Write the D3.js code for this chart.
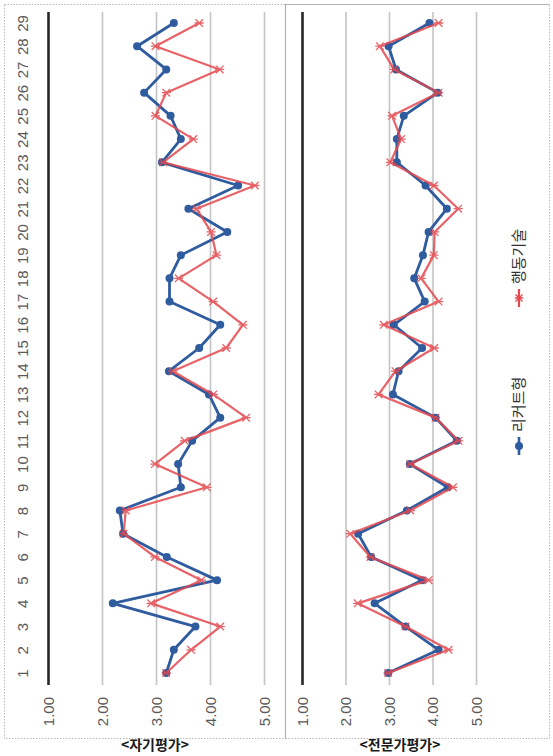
<!DOCTYPE html>
<html>
<head>
<meta charset="utf-8">
<script src="https://cdn.jsdelivr.net/npm/d3@7/dist/d3.min.js"></script>
<style>
    body { margin: 0; background: #fff; }
    svg { display: block; }
    .num { font-family: "Liberation Sans Narrow", "Liberation Sans", sans-serif; font-size: 15px; fill: #595959; }
    .kor { font-family: "Noto Sans CJK KR", sans-serif; }
</style>
</head>
<body>
<div id="chart"></div>
<script>
// items 1..29
const items = [1, 2, 3, 4, 5, 6, 7, 8, 9, 10, 11, 12, 13, 14, 15, 16, 17, 18, 19, 20,
    21, 22, 23, 24, 25, 26, 27, 28, 29];
const valueTicks = [1, 2, 3, 4, 5];
const seriesNames = ["리커트형", "행동기술"];
const panelTitles = ["<자기평가>", "<전문가평가>"];

// 자기평가
const selfLikert = [3.19, 3.33, 3.73, 2.20, 4.13, 3.20, 2.39, 2.33, 3.46, 3.41, 3.67, 4.19, 3.98, 3.24,
    3.80, 4.19, 3.25, 3.25, 3.46, 4.32, 3.60, 4.52, 3.11, 3.46, 3.27, 2.78, 3.19, 2.65, 3.33];
const selfBehavior = [3.19, 3.65, 4.19, 2.91, 3.84, 2.98, 2.40, 2.44, 3.94, 2.98, 3.53, 4.67, 4.06, 3.31,
    4.30, 4.61, 4.06, 3.42, 4.12, 4.02, 3.75, 4.83, 3.13, 3.69, 2.99, 3.19, 4.18, 2.99, 3.80];

// 전문가평가
const expertLikert = [2.98, 4.14, 3.38, 2.67, 3.76, 2.59, 2.29, 3.41, 4.35, 3.48, 4.56, 4.07, 3.09, 3.22,
    3.76, 3.11, 3.82, 3.58, 3.78, 3.91, 4.33, 3.84, 3.18, 3.18, 3.34, 4.12, 3.16, 2.99, 3.93];
const expertBehavior = [2.98, 4.37, 3.38, 2.28, 3.91, 2.57, 2.11, 3.49, 4.47, 3.49, 4.60, 4.07, 2.76, 3.15,
    4.04, 2.88, 4.14, 3.74, 4.03, 4.05, 4.59, 4.03, 3.03, 3.28, 3.07, 4.14, 3.12, 2.79, 4.14];

const BLUE = "#2f5c9e";
const RED = "#e5484e";

const svg = d3.select("#chart").append("svg")
    .attr("width", 553)
    .attr("height", 756);

function asterisk(s) {
    return "M" + (-s) + "," + (-s) + "L" + s + "," + s +
        "M" + (-s) + "," + s + "L" + s + "," + (-s) +
        "M" + (-s * 1.2) + ",0L" + (s * 1.2) + ",0";
}

function RotatedPanel() {
}

RotatedPanel.prototype.init = function (opts) {
    this.left = opts.left;       // pixel of value 1.00
    this.right = opts.right;     // pixel of value 5.00
    this.top = 12;
    this.bottom = 685;
    this.showItems = opts.showItems;
    this.title = opts.title;
    this.titleX = opts.titleX;

    this.x = d3.scaleLinear()
        .domain([1, 5])
        .range([this.left, this.right]);

    this.y = d3.scalePoint()
        .domain(items)
        .range([673, 23]);

    let self = this;
    this.line = d3.line()
        .x(function (d) {
            return self.x(d.value)
        })
        .y(function (d) {
            return self.y(d.item)
        });
};

RotatedPanel.prototype.render = function (likert, behavior) {
    let self = this;
    let g = svg.append("g");

    // gridlines (1.00 is the dark base line)
    let grid = g.append("g")
        .attr("transform", "translate(0," + this.bottom + ")")
        .call(d3.axisBottom(this.x).tickValues(valueTicks).tickSize(-(this.bottom - this.top)).tickFormat(""));
    grid.select(".domain").remove();
    grid.selectAll(".tick line")
        .attr("stroke", function (d) { return d === 1 ? "#262626" : "#c4c4c4"; })
        .attr("stroke-width", function (d) { return d === 1 ? 2.6 : 1.6; });

    // value labels, rotated
    let xAxis = g.append("g")
        .attr("transform", "translate(0," + this.bottom + ")")
        .call(d3.axisBottom(this.x).tickValues(valueTicks).tickSize(0).tickFormat(d3.format(".2f")));
    xAxis.select(".domain").remove();
    xAxis.selectAll("text")
        .attr("class", "num")
        .attr("x", 0)
        .attr("y", 0)
        .attr("dy", "0.35em")
        .attr("transform", "translate(0,12) rotate(-90)")
        .style("text-anchor", "end");

    if (this.showItems) {
        let yAxis = g.append("g")
            .attr("transform", "translate(" + this.left + ",0)")
            .call(d3.axisLeft(this.y).tickSize(0));
        yAxis.select(".domain").remove();
        yAxis.selectAll("text")
            .attr("class", "num")
            .attr("x", 0)
            .attr("y", 0)
            .attr("dy", "0.35em")
            .attr("transform", "translate(-25,0) rotate(-90)")
            .style("text-anchor", "middle");
    }

    let blueData = items.map(function (d, i) { return {item: d, value: likert[i]}; });
    let redData = items.map(function (d, i) { return {item: d, value: behavior[i]}; });

    g.append("path")
        .datum(blueData)
        .attr("fill", "none")
        .attr("stroke", BLUE)
        .attr("stroke-width", 2.8)
        .attr("stroke-linejoin", "round")
        .attr("d", this.line);

    g.selectAll(".dot")
        .data(blueData)
        .enter().append("circle")
        .attr("cx", function (d) { return self.x(d.value); })
        .attr("cy", function (d) { return self.y(d.item); })
        .attr("r", 4)
        .attr("fill", BLUE);

    let red = g.append("g").attr("opacity", 0.85);
    red.append("path")
        .datum(redData)
        .attr("fill", "none")
        .attr("stroke", RED)
        .attr("stroke-width", 2.2)
        .attr("stroke-linejoin", "round")
        .attr("d", this.line);

    red.selectAll(".star")
        .data(redData)
        .enter().append("path")
        .attr("transform", function (d) {
            return "translate(" + self.x(d.value) + "," + self.y(d.item) + ")";
        })
        .attr("d", asterisk(3.8))
        .attr("stroke", RED)
        .attr("stroke-width", 1.3)
        .attr("fill", "none");

    // title sits at the very bottom edge, as in the source
    svg.append("text")
        .attr("class", "kor")
        .attr("x", this.titleX)
        .attr("y", 750)
        .attr("text-anchor", "middle")
        .attr("font-size", 14)
        .attr("font-weight", "bold")
        .attr("fill", "#1a1a1a")
        .text(this.title);
};

// panel frames
svg.append("rect")
    .attr("x", 4.5).attr("y", 4.5)
    .attr("width", 281).attr("height", 734)
    .attr("fill", "none")
    .attr("stroke", "#b8b8b8")
    .attr("stroke-dasharray", "1.5,1.5");

svg.append("path")
    .attr("d", "M285.5,738.5L549.5,738.5L549.5,4.5")
    .attr("fill", "none")
    .attr("stroke", "#b8b8b8")
    .attr("stroke-dasharray", "1.5,1.5");

svg.append("path")
    .attr("d", "M285.5,738.5L285.5,4.5L549.5,4.5")
    .attr("fill", "none")
    .attr("stroke", "#b0b0b0")
    .attr("stroke-width", 1.2);

let selfChart = new RotatedPanel();
selfChart.init({left: 48, right: 264, showItems: true, title: panelTitles[0], titleX: 155});
selfChart.render(selfLikert, selfBehavior);

let expertChart = new RotatedPanel();
expertChart.init({left: 302, right: 476, showItems: false, title: panelTitles[1], titleX: 400});
expertChart.render(expertLikert, expertBehavior);

// legend (vertical, inside the expert panel)
let legend = svg.append("g").attr("transform", "translate(519,0)");
let legendRows = [{name: seriesNames[0], color: BLUE, cy: 446}, {name: seriesNames[1], color: RED, cy: 298}];
legendRows.forEach(function (row, i) {
    let lg = legend.append("g").attr("transform", "translate(0," + row.cy + ")");
    lg.append("line")
        .attr("y1", -9).attr("y2", 9)
        .attr("stroke", row.color)
        .attr("stroke-width", i === 0 ? 2.6 : 2.2);
    if (i === 0) {
        lg.append("circle").attr("r", 4).attr("fill", row.color);
    } else {
        lg.append("path").attr("d", asterisk(3.5)).attr("stroke", row.color)
            .attr("stroke-width", 1.3).attr("fill", "none");
    }
    lg.append("text")
        .attr("class", "kor")
        .attr("transform", "translate(0,-14) rotate(-90)")
        .attr("dy", "0.35em")
        .attr("font-size", 15)
        .attr("fill", "#333")
        .text(row.name);
});
</script>
</body>
</html>
